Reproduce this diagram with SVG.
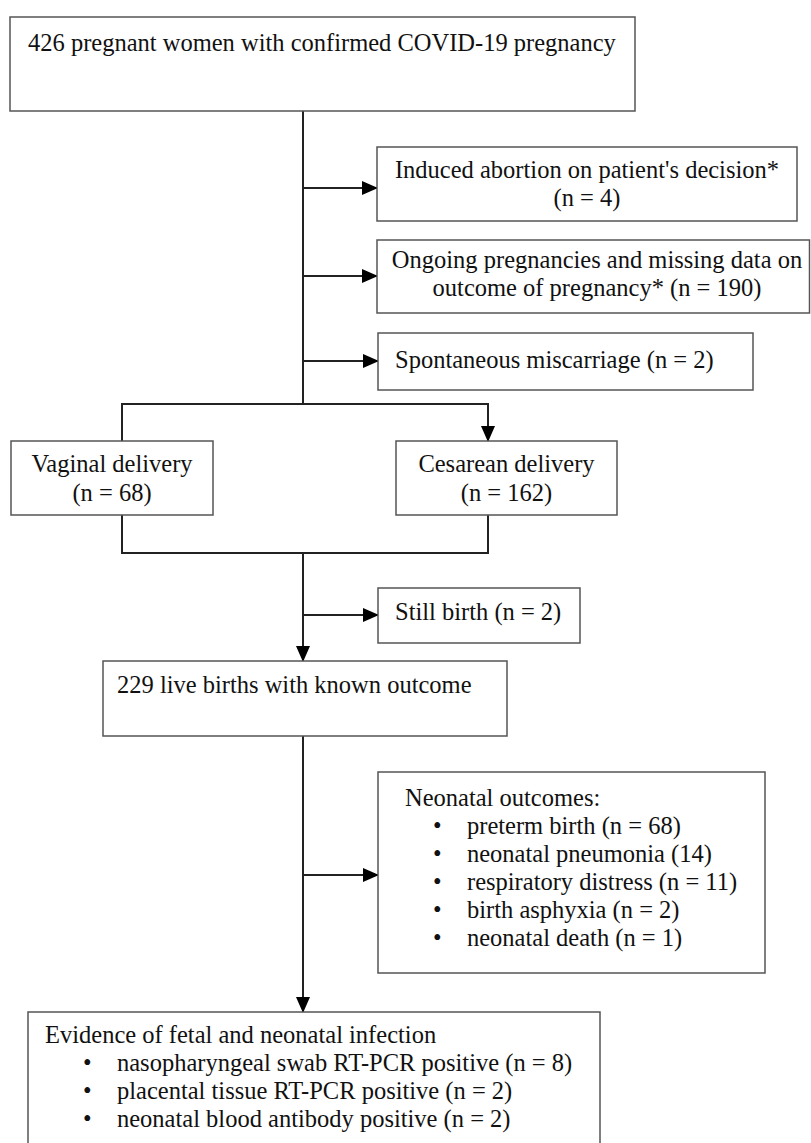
<svg xmlns="http://www.w3.org/2000/svg" width="811" height="1143" viewBox="0 0 811 1143">
<style>
.box{fill:#fff;stroke:#555;stroke-width:1.5}
.t{font-family:"Liberation Serif","Times New Roman",serif;font-size:24.5px;fill:#111}
.c{text-anchor:middle}
.ln{fill:none;stroke:#222;stroke-width:2}
</style>
<defs>
<marker id="ah" markerUnits="userSpaceOnUse" markerWidth="16" markerHeight="14" refX="15" refY="7" orient="auto">
<path d="M0,0 L16,7 L0,14 Z" fill="#000"/>
</marker>
</defs>
<rect width="811" height="1143" fill="#fff"/>
<g id="connectors">
<line class="ln" x1="303" y1="111" x2="303" y2="404"/>
<line class="ln" x1="303" y1="188" x2="377" y2="188" marker-end="url(#ah)"/>
<line class="ln" x1="303" y1="276" x2="377" y2="276" marker-end="url(#ah)"/>
<line class="ln" x1="303" y1="361" x2="378" y2="361" marker-end="url(#ah)"/>
<path class="ln" d="M122,441 L122,404 L488,404 L488,441" marker-start="url(#ah)" marker-end="url(#ah)"/>
<path class="ln" d="M122,515 L122,553 L488,553 L488,515"/>
<line class="ln" x1="303" y1="553" x2="303" y2="661" marker-end="url(#ah)"/>
<line class="ln" x1="303" y1="615" x2="378" y2="615" marker-end="url(#ah)"/>
<line class="ln" x1="303" y1="736" x2="303" y2="1012" marker-end="url(#ah)"/>
<line class="ln" x1="303" y1="875" x2="378" y2="875" marker-end="url(#ah)"/>
</g>
<g id="n1"><rect class="box" x="10" y="17" width="625" height="94"/><text class="t" x="28" y="51">426 pregnant women with confirmed COVID-19 pregnancy</text></g>
<g id="n2"><rect class="box" x="377" y="147" width="420" height="74"/><text class="t c" x="587" y="178">Induced abortion on patient's decision*</text><text class="t c" x="587" y="206">(n = 4)</text></g>
<g id="n3"><rect class="box" x="377" y="240" width="432.5" height="73"/><text class="t c" x="597" y="268">Ongoing pregnancies and missing data on</text><text class="t c" x="597" y="296">outcome of pregnancy* (n = 190)</text></g>
<g id="n4"><rect class="box" x="378" y="333" width="375" height="57"/><text class="t" x="395" y="368">Spontaneous miscarriage (n = 2)</text></g>
<g id="n5"><rect class="box" x="11" y="441" width="202" height="74"/><text class="t c" x="112" y="472">Vaginal delivery</text><text class="t c" x="112" y="501">(n = 68)</text></g>
<g id="n6"><rect class="box" x="396" y="441" width="221" height="74"/><text class="t c" x="506.5" y="472">Cesarean delivery</text><text class="t c" x="506.5" y="501">(n = 162)</text></g>
<g id="n7"><rect class="box" x="378" y="588" width="202" height="55"/><text class="t" x="395" y="620">Still birth (n = 2)</text></g>
<g id="n8"><rect class="box" x="103" y="661" width="404" height="75"/><text class="t" x="117" y="693">229 live births with known outcome</text></g>
<g id="n9"><rect class="box" x="378" y="772" width="387" height="201"/>
<text class="t" x="405" y="806">Neonatal outcomes:</text>
<text class="t" x="433" y="834">•</text><text class="t" x="467" y="834">preterm birth (n = 68)</text>
<text class="t" x="433" y="862">•</text><text class="t" x="467" y="862">neonatal pneumonia (14)</text>
<text class="t" x="433" y="890">•</text><text class="t" x="467" y="890">respiratory distress (n = 11)</text>
<text class="t" x="433" y="918">•</text><text class="t" x="467" y="918">birth asphyxia (n = 2)</text>
<text class="t" x="433" y="946">•</text><text class="t" x="467" y="946">neonatal death (n = 1)</text>
</g>
<g id="n10"><rect class="box" x="28" y="1012" width="572" height="150"/>
<text class="t" x="45" y="1043">Evidence of fetal and neonatal infection</text>
<text class="t" x="83" y="1071">•</text><text class="t" x="117" y="1071">nasopharyngeal swab RT-PCR positive (n = 8)</text>
<text class="t" x="83" y="1099">•</text><text class="t" x="117" y="1099">placental tissue RT-PCR positive (n = 2)</text>
<text class="t" x="83" y="1127">•</text><text class="t" x="117" y="1127">neonatal blood antibody positive (n = 2)</text>
</g>
</svg>
